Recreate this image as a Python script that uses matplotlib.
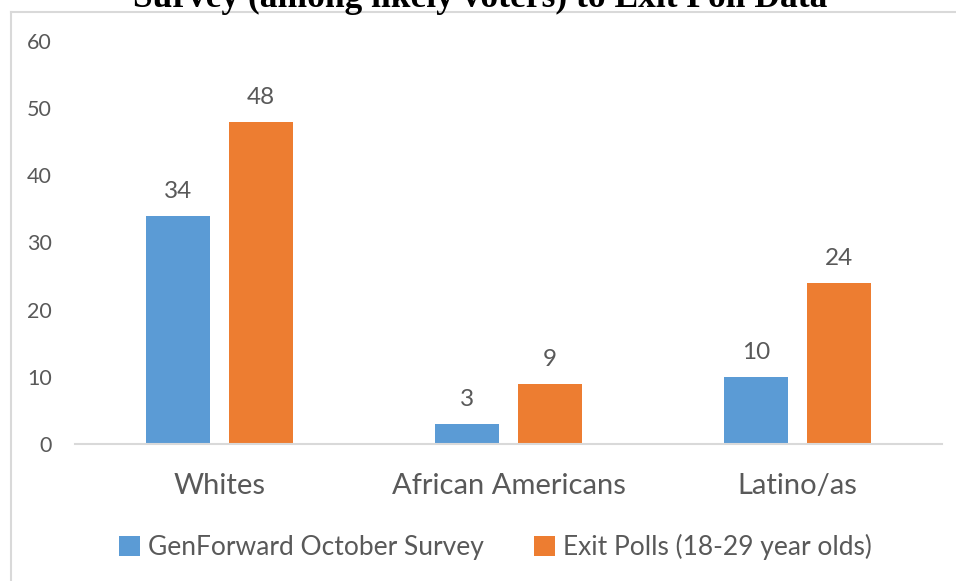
import matplotlib.pyplot as plt
from matplotlib.lines import Line2D
import numpy as np

groups = ['Whites', 'African Americans', 'Latino/as']
genforward = [34, 3, 10]
exit_polls = [48, 9, 24]
series_names = ['GenForward October Survey', 'Exit Polls (18-29 year olds)']
y_ticks = [0, 10, 20, 30, 40, 50, 60]
title = 'Survey (among likely voters) to Exit Poll Data'

blue = '#5B9BD5'
orange = '#ED7D31'
grey_txt = '#595959'

plt.rcParams['font.family'] = ['Lato', 'DejaVu Sans']

fig = plt.figure(figsize=(9.56, 5.81), dpi=100)
W, H = 956, 581
ax = fig.add_axes([75 / W, (H - 444) / H, 867 / W, 403 / H])

x = np.arange(len(groups))
w = 0.2215
off = (w + 19 / 289) / 2
b1 = ax.bar(x - off, genforward, w, color=blue, label=series_names[0])
b2 = ax.bar(x + off, exit_polls, w, color=orange, label=series_names[1])

for bars, vals in ((b1, genforward), (b2, exit_polls)):
    for b, v in zip(bars, vals):
        ax.annotate(str(v), (b.get_x() + b.get_width() / 2, v),
                    xytext=(0, 10), textcoords='offset points',
                    ha='center', va='bottom', fontsize=17.5, color=grey_txt)

ax.set_xlim(-0.5, 2.5)
ax.set_ylim(0, 60)
ax.set_yticks(y_ticks)
ax.set_xticks(x)
ax.set_xticklabels(groups)
ax.tick_params(axis='y', length=0, pad=16.5, labelsize=15.5, labelcolor=grey_txt)
ax.tick_params(axis='x', length=0, pad=21, labelsize=21, labelcolor=grey_txt)
for s in ['top', 'right', 'left']:
    ax.spines[s].set_visible(False)
ax.spines['bottom'].set_color('#D9D9D9')
ax.spines['bottom'].set_linewidth(1.5)

fig.legend(loc='center', bbox_to_anchor=(495 / W, (H - 547) / H), ncol=2,
           frameon=False, fontsize=19, labelcolor=grey_txt,
           handlelength=0.8, handleheight=0.8, handletextpad=0.3,
           columnspacing=1.9)

# outer frame, top and left edges
fig.add_artist(Line2D([11 / W, 11 / W], [0, (H - 12) / H], color='#D9D9D9', lw=1.5))
fig.add_artist(Line2D([11 / W, 1], [(H - 12) / H, (H - 12) / H], color='#D9D9D9', lw=1.5))

fig.text(480 / W, (H - 7) / H, title, ha='center', va='baseline',
         fontsize=25.5, fontweight='bold', family=['Liberation Serif'])

fig.savefig('out.png', dpi=100)
